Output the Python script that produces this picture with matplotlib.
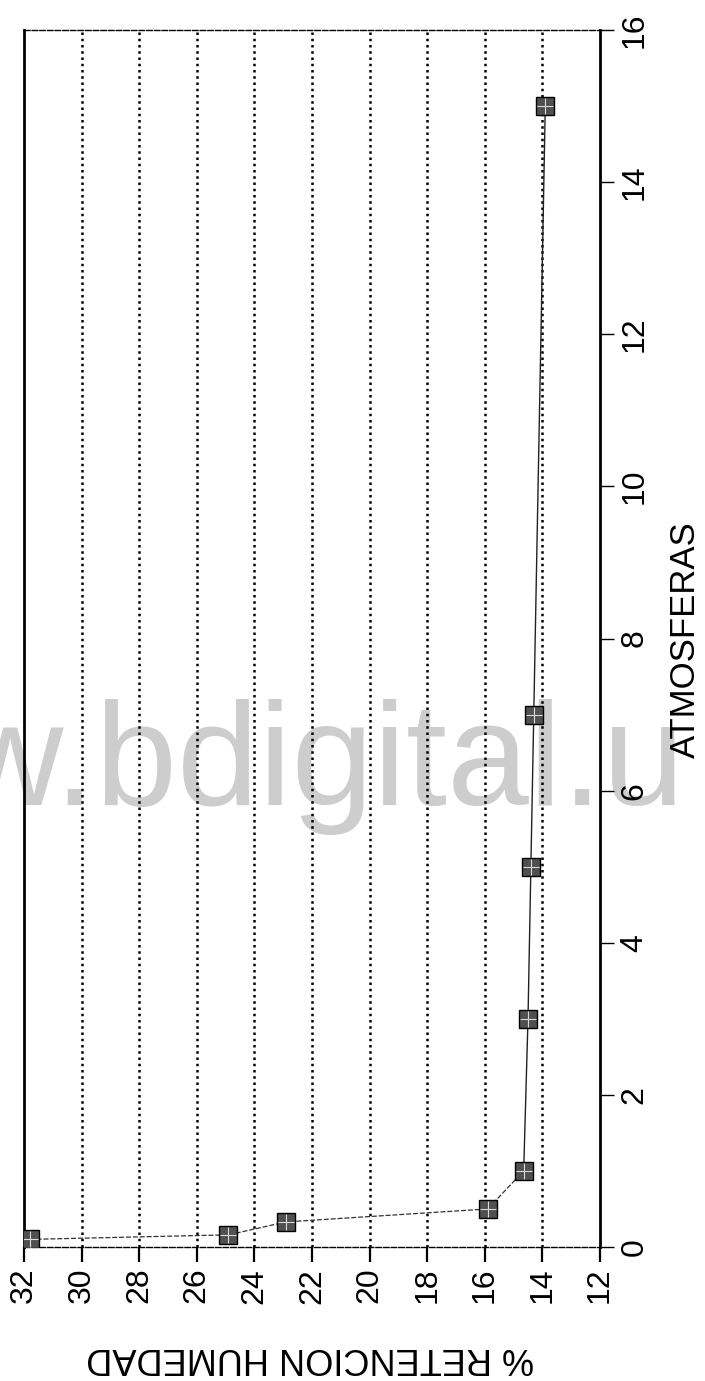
import numpy as np
import matplotlib.pyplot as plt

# data (chart is printed rotated: pressure runs up the page, moisture across)
atmosferas = [0.1, 0.16, 0.33, 0.5, 1, 3, 5, 7, 15]
retencion = [31.8, 24.9, 22.9, 15.9, 14.65, 14.5, 14.4, 14.3, 13.9]
ret_ticks = [32, 30, 28, 26, 24, 22, 20, 18, 16, 14, 12]
atm_ticks = [0, 2, 4, 6, 8, 10, 12, 14, 16]

plt.rcParams['font.family'] = ['Liberation Sans', 'DejaVu Sans']

fig = plt.figure(figsize=(7.05, 13.81), dpi=100)
ax = fig.add_axes([24 / 705, 1 - 1247 / 1381, 576 / 705, 1217 / 1381])
ax.patch.set_alpha(0)

# watermark from the scan, sits behind the plot
fig.text(-44 / 705, 1 - 805 / 1381, 'w.bdigital.u', fontsize=106,
         color='#cdcdcd', ha='left', va='baseline', zorder=-5)

# dotted grid lines
for r in ret_ticks[1:-1]:
    ax.axvline(r, color='black', lw=1.8, linestyle=(0, (1, 1.5)), zorder=1)

# low-pressure part of the curve is drawn dashed, the rest solid
ax.plot(retencion[:5], atmosferas[:5], color='#333333', lw=0.9,
        linestyle=(0, (4, 1.5)), zorder=2)
ax.plot(retencion[4:], atmosferas[4:], color='#222222', lw=1, zorder=2)
ax.plot(retencion, atmosferas, linestyle='none', marker='s', markersize=13,
        markerfacecolor='#505050', markeredgecolor='black', markeredgewidth=1,
        zorder=3)
ax.plot(retencion, atmosferas, linestyle='none', marker='+', markersize=11,
        markeredgecolor='#d8d8d8', markeredgewidth=0.8, zorder=4)

ax.set_xlim(32, 12)
ax.set_ylim(0, 16)
ax.set_xticks(ret_ticks)
ax.set_yticks(atm_ticks)
ax.yaxis.tick_right()

ax.tick_params(axis='x', direction='out', length=11, width=1.6, pad=4,
               labelsize=23, labelrotation=90)
ax.tick_params(axis='y', direction='out', length=10, width=1, pad=4,
               labelsize=23, labelrotation=90)
for lab in ax.get_yticklabels():
    lab.set_va('center')

for side in ['left', 'right']:
    ax.spines[side].set_linewidth(2)
for side in ['top', 'bottom']:
    ax.spines[side].set_linewidth(1)
    ax.spines[side].set_linestyle((0, (4, 1.5)))

# axis titles
fig.text(685 / 705, 1 - 640 / 1381, 'ATMOSFERAS', fontsize=25,
         rotation=90, ha='center', va='center')
fig.text(310 / 705, 1 - 1357 / 1381, '% RETENCION HUMEDAD', fontsize=26,
         rotation=180, ha='center', va='center')

fig.savefig('out.png', dpi=100)
